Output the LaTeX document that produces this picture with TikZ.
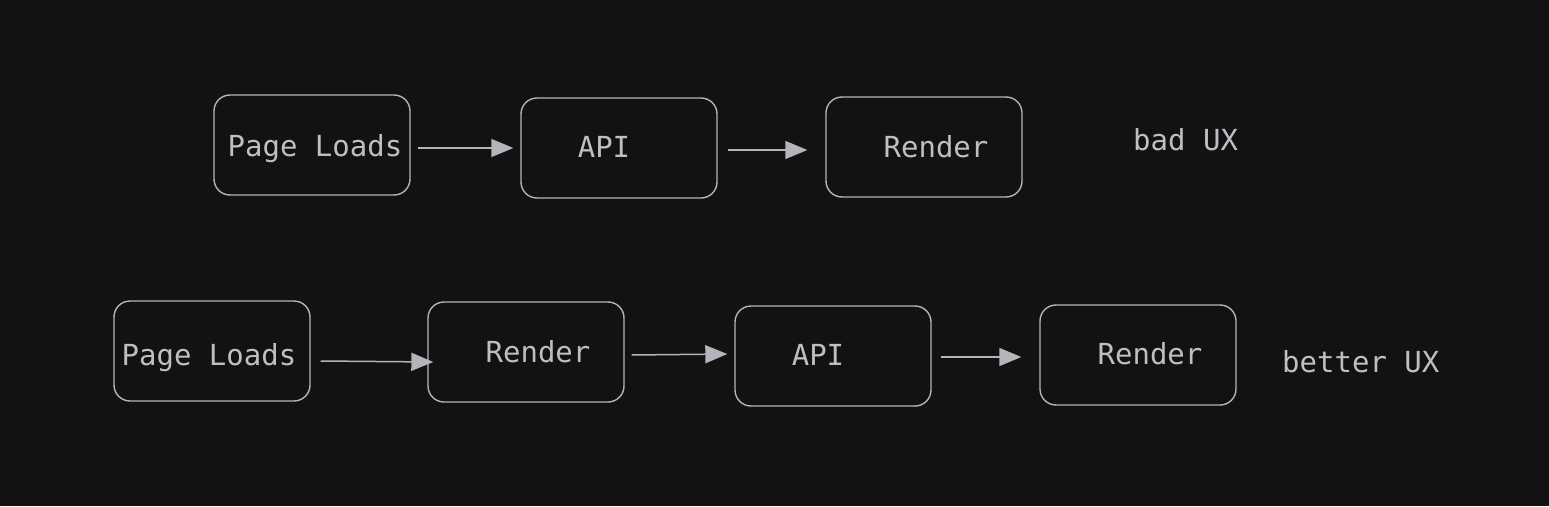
\documentclass[tikz,border=0pt]{standalone}
\usepackage{fontspec}
\setmonofont{DejaVu Sans Mono}
\usepackage{tikz}
\usetikzlibrary{arrows.meta, positioning}
\definecolor{canvas}{RGB}{18, 18, 18}
\definecolor{stroke}{RGB}{180, 181, 186}
\definecolor{ink}{RGB}{190, 191, 197}

\begin{document}
\begin{tikzpicture}[
    x=1pt, y=-1pt,
    box/.style={
        rectangle,
        draw=stroke,
        line width=1.4pt,
        rounded corners=16pt,
        minimum width=196pt,
        minimum height=100pt
    },
    lbl/.style={
        text=ink,
        font=\ttfamily\fontsize{29}{34}\selectfont,
        inner sep=0pt
    },
    edge/.style={-{Triangle[length=22pt, width=18pt]}, line width=1.5pt, draw=stroke}
]
    \useasboundingbox[fill=canvas] (0,0) rectangle (1549,506);

    % Row 1: bad UX
    \node[box, label={[lbl, xshift=3pt, yshift=-4pt]center:Page Loads}] (load1) at (312,145) {};
    \node[box, label={[lbl, xshift=-15pt, yshift=1pt]center:API}] (api1) at (619,148) {};
    \node[box, label={[lbl, xshift=12pt, yshift=0pt]center:Render}] (ren1) at (924,147) {};
    \node[lbl, anchor=west] (bad) at (1133,140) {bad UX};

    % Row 2: better UX
    \node[box, label={[lbl, xshift=-3pt, yshift=-7pt]center:Page Loads}] (load2) at (212,351) {};
    \node[box, label={[lbl, xshift=12pt, yshift=0pt]center:Render}] (ren2) at (526,352) {};
    \node[box, label={[lbl, xshift=-15pt, yshift=1pt]center:API}] (api2) at (833,356) {};
    \node[box, label={[lbl, xshift=12pt, yshift=1pt]center:Render}] (ren3) at (1138,355) {};
    \node[lbl, anchor=west] (better) at (1282,362) {better UX};

    % Arrows
    \draw[edge] ([xshift=7pt, yshift=-3pt]load1.east) -- ([xshift=-7pt, yshift=0pt]api1.west);
    \draw[edge] ([xshift=10pt, yshift=-2pt]api1.east) -- ([xshift=-18pt, yshift=-3pt]ren1.west);
    \draw[edge] ([xshift=10pt, yshift=-10pt]load2.east) -- ([xshift=6pt, yshift=-10pt]ren2.west);
    \draw[edge] ([xshift=7pt, yshift=-3pt]ren2.east) -- ([xshift=-7pt, yshift=2pt]api2.west);
    \draw[edge] ([xshift=9pt, yshift=-1pt]api2.east) -- ([xshift=-18pt, yshift=-2pt]ren3.west);
\end{tikzpicture}
\end{document}
